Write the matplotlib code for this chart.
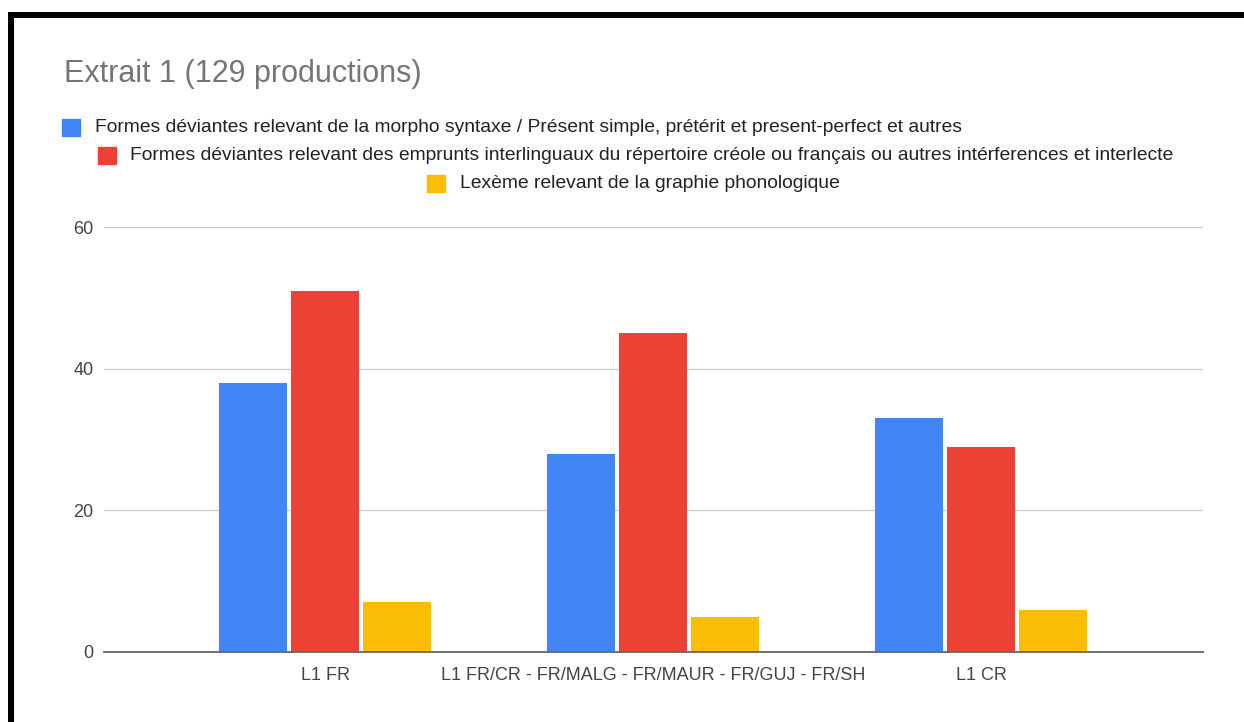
import matplotlib
matplotlib.use("Agg")
import matplotlib.pyplot as plt
from matplotlib.patches import Rectangle
import numpy as np

plt.rcParams['font.family'] = ['Liberation Sans', 'DejaVu Sans']

title = "Extrait 1 (129 productions)"
categories = ["L1 FR", "L1 FR/CR - FR/MALG - FR/MAUR - FR/GUJ - FR/SH", "L1 CR"]
series_names = [
    "Formes déviantes relevant de la morpho syntaxe / Présent simple, prétérit et present-perfect et autres",
    "Formes déviantes relevant des emprunts interlinguaux du répertoire créole ou français ou autres intérferences et interlecte",
    "Lexème relevant de la graphie phonologique",
]
morpho = [38, 28, 33]
emprunts = [51, 45, 29]
graphie = [7, 5, 6]
series_values = [morpho, emprunts, graphie]
colors = ["#4285F4", "#EA4335", "#FBBC04"]
yticks = [0, 20, 40, 60]

W, H = 1244, 722
fig = plt.figure(figsize=(W / 100, H / 100), dpi=100)

def fx(px):
    return px / W

def fy(py):
    return 1 - py / H

ax = fig.add_axes([fx(104), fy(652), fx(1203) - fx(104), fy(227) - fy(652)])

x = np.arange(len(categories))
slot = 0.2195
bw = 0.207
for i, (vals, col) in enumerate(zip(series_values, colors)):
    ax.bar(x + (i - 1) * slot, vals, width=bw, color=col, zorder=3)

ax.set_xlim(-0.674, 2.677)
ax.set_ylim(0, 60)
ax.set_yticks(yticks)
ax.set_yticklabels([str(v) for v in yticks])
ax.set_xticks(x)
ax.set_xticklabels(categories)
ax.tick_params(axis='both', length=0, labelsize=13, labelcolor="#444444")
ax.tick_params(axis='y', pad=7.5)
ax.tick_params(axis='x', pad=11)
for s in ["top", "right", "left"]:
    ax.spines[s].set_visible(False)
ax.spines["bottom"].set_color("#666666")
ax.spines["bottom"].set_linewidth(1.3)
ax.spines["bottom"].set_zorder(4)
ax.grid(axis='y', color="#cccccc", linewidth=1, zorder=0)
ax.set_axisbelow(True)

# Title
fig.text(fx(64), fy(74), title, fontsize=22, color="#757575", ha="left", va="center")

# Legend (manual wrapping like the original)
leg_rows = [(62, 95, 127), (98, 130, 155), (427, 460, 183)]
for (sx, tx, cy), name, col in zip(leg_rows, series_names, colors):
    fig.add_artist(Rectangle((fx(sx), fy(cy + 8.5)), fx(18), 17 / H,
                             transform=fig.transFigure, color=col))
    fig.text(fx(tx), fy(cy), name, fontsize=13.9, color="#222222", ha="left", va="center")

# Black border (top and left)
fig.add_artist(Rectangle((fx(8), fy(18)), 1 - fx(8), 6 / H, transform=fig.transFigure,
                         color="black", linewidth=0))
fig.add_artist(Rectangle((fx(8), 0), 6 / W, fy(12), transform=fig.transFigure,
                         color="black", linewidth=0))

fig.savefig("out.png", dpi=100)
